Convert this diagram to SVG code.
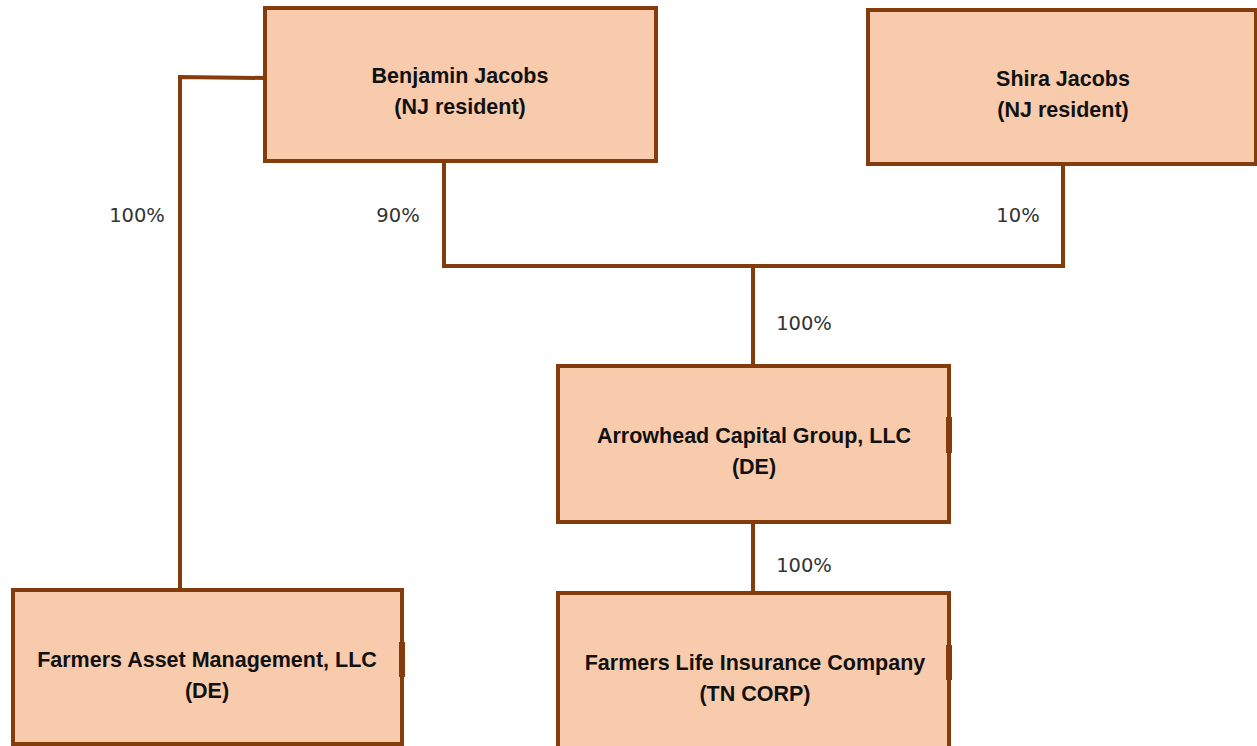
<svg xmlns="http://www.w3.org/2000/svg" width="1257" height="746" viewBox="0 0 1257 746">
<style>
.box{fill:#F8CBAD;stroke:#843C0C;stroke-width:4;}
.tab{fill:#843C0C;}
.t{font-family:"Liberation Sans",Arial,sans-serif;font-weight:bold;font-size:21.5px;fill:#111;text-anchor:middle;}
.lbl{font-family:"DejaVu Sans",Verdana,sans-serif;font-size:19.5px;fill:#333;text-anchor:middle;}
.c{fill:none;stroke:#843C0C;stroke-width:4;}
</style>
<rect width="1257" height="746" fill="#fff"/>
<g id="connectors">
<polyline class="c" points="265,78 180,77 180,590"/>
<polyline class="c" points="444,161 444,266 1063,266 1063,164"/>
<line class="c" x1="753" y1="266" x2="753" y2="366"/>
<line class="c" x1="753" y1="522" x2="753" y2="593"/>
</g>
<g id="labels">
<text class="lbl" x="137" y="222">100%</text>
<text class="lbl" x="398" y="222">90%</text>
<text class="lbl" x="1018" y="222">10%</text>
<text class="lbl" x="804" y="330">100%</text>
<text class="lbl" x="804" y="572">100%</text>
</g>
<g id="benjamin">
<rect class="box" x="265" y="8" width="391" height="153"/>
<text class="t" x="460" y="83">Benjamin Jacobs</text>
<text class="t" x="460" y="114">(NJ resident)</text>
</g>
<g id="shira">
<rect class="box" x="868" y="10" width="388" height="154"/>
<text class="t" x="1063" y="86">Shira Jacobs</text>
<text class="t" x="1063" y="117">(NJ resident)</text>
</g>
<g id="arrowhead">
<rect class="box" x="558" y="366" width="391" height="156"/>
<rect class="tab" x="946" y="417" width="6" height="36"/>
<text class="t" x="754" y="443">Arrowhead Capital Group, LLC</text>
<text class="t" x="754" y="474">(DE)</text>
</g>
<g id="fam">
<rect class="box" x="13" y="590" width="389" height="154"/>
<rect class="tab" x="399" y="642" width="6" height="35"/>
<text class="t" x="207" y="667">Farmers Asset Management, LLC</text>
<text class="t" x="207" y="698">(DE)</text>
</g>
<g id="flic">
<rect class="box" x="558" y="593" width="391" height="160"/>
<rect class="tab" x="946" y="645" width="6" height="35"/>
<text class="t" x="755" y="670">Farmers Life Insurance Company</text>
<text class="t" x="755" y="701">(TN CORP)</text>
</g>
</svg>
